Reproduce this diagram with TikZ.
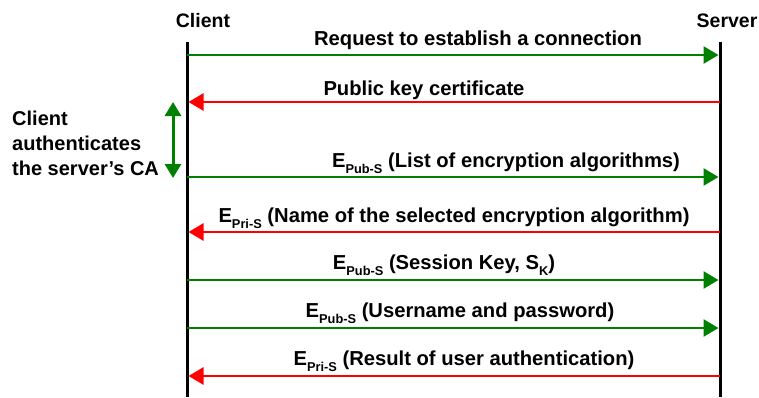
\documentclass[tikz,border=0pt]{standalone}
\usepackage{fontspec}
\setmainfont{Liberation Sans}
\usetikzlibrary{arrows.meta}
\definecolor{msggreen}{RGB}{0,128,0}
\definecolor{msgred}{RGB}{255,0,0}
\newcommand{\sbs}[1]{\raisebox{-6.5pt}{\fontsize{12.8}{14}\selectfont #1}}
\tikzset{
  lbl/.style={font=\bfseries\fontsize{20.2}{22}\selectfont, inner sep=0pt, anchor=base},
  lifeline/.style={line width=3pt, black},
  tip/.style={-{Triangle[length=15pt,width=17pt]}},
  fwd/.style={tip, line width=2.6pt, msggreen, shorten >=1.5pt},
  back/.style={tip, line width=2.6pt, msgred, shorten >=1.5pt},
}
\begin{document}
\begin{tikzpicture}[x=1pt,y=-1pt]
\useasboundingbox (0,0) rectangle (759,397);
\fill[white] (0,0) rectangle (759,397);

% participants
\node[lbl, font=\bfseries\fontsize{19.5}{22}\selectfont] (client) at (203,27) {Client};
\node[lbl, font=\bfseries\fontsize{19.5}{22}\selectfont] (server) at (727,27) {Server};
\coordinate (ctop) at (187,42);
\coordinate (cbot) at (187,397);
\coordinate (stop) at (720,42);
\coordinate (sbot) at (720,397);
\draw[lifeline] (ctop) -- (cbot);
\draw[lifeline] (stop) -- (sbot);

% message endpoints on the lifelines
\foreach \i/\y in {1/55,2/102,3/177,4/232,5/280,6/328,7/376}{
  \coordinate (c\i) at (187,\y);
  \coordinate (s\i) at (720,\y);
}

\draw[fwd]  (c1) -- (s1);
\draw[back] (s2) -- (c2);
\draw[fwd]  (c3) -- (s3);
\draw[back] (s4) -- (c4);
\draw[fwd]  (c5) -- (s5);
\draw[fwd]  (c6) -- (s6);
\draw[back] (s7) -- (c7);

\node[lbl] (m1) at (478,45)  {Request to establish a connection};
\node[lbl] (m2) at (424,95)  {Public key certificate};
\node[lbl] (m3) at (506,167) {E\sbs{Pub-S} (List of encryption algorithms)};
\node[lbl] (m4) at (454,222) {E\sbs{Pri-S} (Name of the selected encryption algorithm)};
\node[lbl] (m5) at (444,269) {E\sbs{Pub-S} (Session Key, S\sbs{K})};
\node[lbl] (m6) at (460,317) {E\sbs{Pub-S} (Username and password)};
\node[lbl] (m7) at (464,365) {E\sbs{Pri-S} (Result of user authentication)};

% certificate check on the client side
\coordinate (ca1) at (173,102);
\coordinate (ca2) at (173,178);
\draw[line width=3pt, msggreen, {Triangle[length=14pt,width=16pt]}-{Triangle[length=14pt,width=16pt]}] (ca1) -- (ca2);
\node[lbl, anchor=base west, align=left, font=\bfseries\fontsize{20}{25}\selectfont] (auth) at (12,175)
  {Client\\authenticates\\the server's CA};
\end{tikzpicture}
\end{document}
